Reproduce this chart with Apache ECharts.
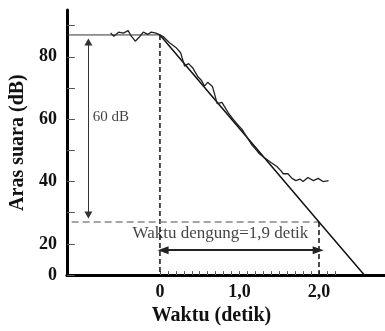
<!DOCTYPE html>
<html>
<head>
<meta charset="utf-8">
<script src="https://cdn.jsdelivr.net/npm/echarts@6/dist/echarts.min.js"></script>
<style>
  html, body { margin: 0; padding: 0; background: #fff; }
  #chart { width: 385px; height: 331px; }
</style>
</head>
<body>
<div id="chart"></div>
<script>
// measured decay curve (time s, level dB)
const measured = [
  [-0.62, 87.6], [-0.58, 86.6], [-0.52, 87.9], [-0.46, 87.6], [-0.40, 88.4],
  [-0.36, 86.6], [-0.31, 85.0], [-0.25, 86.6], [-0.21, 87.9], [-0.15, 87.2],
  [-0.11, 87.9], [-0.05, 87.6], [0.00, 87.0], [0.04, 86.5], [0.12, 84.5],
  [0.20, 83.0], [0.26, 81.3], [0.31, 77.0], [0.36, 77.8], [0.41, 76.5],
  [0.48, 73.5], [0.52, 72.5], [0.56, 70.6], [0.60, 71.8], [0.66, 70.5],
  [0.72, 65.0], [0.78, 65.4], [0.81, 64.1], [0.86, 62.0], [0.91, 60.3],
  [0.97, 58.5], [1.03, 56.8], [1.10, 54.0], [1.16, 51.6], [1.20, 50.5],
  [1.25, 48.9], [1.32, 47.5], [1.40, 46.0], [1.47, 44.8], [1.52, 43.5],
  [1.55, 42.5], [1.61, 42.5], [1.66, 41.0], [1.71, 40.3], [1.76, 40.8],
  [1.80, 40.0], [1.86, 41.3], [1.93, 40.3], [1.99, 41.0], [2.05, 40.0],
  [2.12, 40.3]
];
// fitted straight decay line
const fitLine = [[0, 87], [2.0, 27], [2.57, 10]];

const xMin = -1.17, xMax = 2.83;
const yMin = 10, yMax = 95;
const startLevel = 87;
const endLevel = 27;
const rtTime = 2.0;

const flatLine = [[xMin, startLevel], [0, startLevel]];
const startDrop = [[0, startLevel], [0, yMin]];
const endLevelLine = [[xMin + 0.06, endLevel], [rtTime, endLevel]];
const endDrop = [[rtTime, endLevel], [rtTime, yMin]];

const arrow60 = [[-0.9, 84.7], [-0.9, 29.3]];
const arrowRT = [[0.04, 18], [1.99, 18]];

const xLabelValues = [0, 1, 2];
const xTickValues = [0, 0.1, 0.2, 0.3, 0.4, 0.5, 0.6, 0.7, 0.8, 0.9, 1.0,
  1.1, 1.2, 1.3, 1.4, 1.5, 1.6, 1.7, 1.8, 1.9, 2.0, 2.1, 2.2];
const yTickValues = [10, 20, 30, 40, 50, 60, 70, 80, 90];
const yLabelValues = [10, 20, 40, 60, 80];

const notes = [
  { value: [-0.845, 60.6], text: '60 dB', size: 15 },
  { value: [-0.345, 23.2], text: 'Waktu dengung=1,9 detik', size: 17 }
];

const serif = 'Liberation Serif';
const chart = echarts.init(document.getElementById('chart'));

const plainLine = (data, color, width, type) => ({
  type: 'line',
  data: data,
  symbol: 'none',
  silent: true,
  animation: false,
  lineStyle: { color: color, width: width, type: type || 'solid' }
});

const arrowLine = (pts, color, width, size) => ({
  type: 'line',
  data: [],
  silent: true,
  animation: false,
  markLine: {
    silent: true,
    animation: false,
    symbol: ['triangle', 'triangle'],
    symbolSize: size,
    label: { show: false },
    lineStyle: { color: color, width: width, type: 'solid' },
    emphasis: { disabled: true },
    data: [[{ coord: pts[0] }, { coord: pts[1] }]]
  }
});

chart.setOption({
  animation: false,
  backgroundColor: '#fff',
  grid: { left: 63, right: 0, top: 10, bottom: 53.5 },
  xAxis: {
    type: 'value',
    min: xMin,
    max: xMax,
    name: 'Waktu (detik)',
    nameLocation: 'middle',
    nameGap: 29,
    nameTextStyle: {
      fontFamily: serif, fontWeight: 'bold', fontSize: 20, color: '#111',
      padding: [0, 29, 0, 0]
    },
    axisLine: { lineStyle: { color: '#000', width: 3 } },
    axisTick: {
      show: true, inside: true, length: 4, customValues: xTickValues,
      lineStyle: { color: '#555', width: 1 }
    },
    axisLabel: {
      customValues: xLabelValues,
      margin: 8,
      fontFamily: serif, fontWeight: 'bold', fontSize: 18, color: '#111',
      formatter: v => v === 0 ? '0' : v.toFixed(1).replace('.', ',')
    },
    splitLine: { show: false }
  },
  yAxis: {
    type: 'value',
    min: yMin,
    max: yMax,
    name: 'Aras suara (dB)',
    nameLocation: 'middle',
    nameGap: 36,
    nameTextStyle: { fontFamily: serif, fontWeight: 'bold', fontSize: 20, color: '#111' },
    axisLine: { onZero: false, lineStyle: { color: '#000', width: 3 } },
    axisTick: {
      show: true, inside: true, length: 8, customValues: yTickValues,
      lineStyle: { color: '#555', width: 1 }
    },
    axisLabel: {
      customValues: yLabelValues,
      margin: 10,
      fontFamily: serif, fontWeight: 'bold', fontSize: 18, color: '#111',
      formatter: v => v === yMin ? '0' : String(v)
    },
    splitLine: { show: false }
  },
  series: [
    plainLine(flatLine, '#333', 1),
    plainLine(startDrop, '#111', 1.5, [5, 3]),
    plainLine(endLevelLine, '#888', 1.5, [7, 4]),
    plainLine(endDrop, '#111', 1.5, [5, 3]),
    plainLine(fitLine, '#111', 1.5),
    plainLine(measured, '#222', 1.3),
    arrowLine(arrow60, '#333', 1, [8, 7]),
    arrowLine(arrowRT, '#222', 2, [8, 11]),
    {
      type: 'scatter',
      symbolSize: 0,
      silent: true,
      animation: false,
      data: notes.map(n => ({
        value: n.value,
        label: {
          show: true,
          position: 'right',
          distance: 0,
          formatter: n.text,
          fontFamily: serif,
          fontSize: n.size,
          color: '#111'
        }
      }))
    }
  ]
});
</script>
</body>
</html>
